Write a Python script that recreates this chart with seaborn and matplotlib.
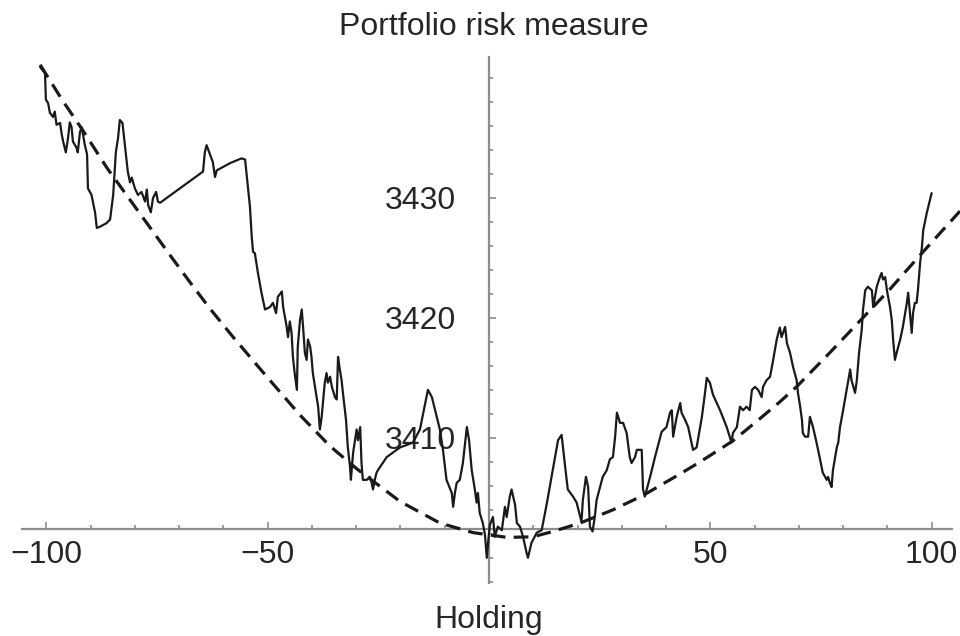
import matplotlib
matplotlib.use("Agg")
import matplotlib.pyplot as plt
import seaborn as sns
import pandas as pd
from matplotlib.ticker import FixedLocator, MultipleLocator, NullFormatter

# ---------------- data ----------------
holding_walk = [
    -101.4, -100.3, -100.1, -99.6, -99.2, -98.5, -98.1, -97.7, -96.9, -96.5,
    -96.2, -95.6, -95.1, -94.7, -94.3, -94.0, -93.2, -92.9, -92.4, -92.0,
    -91.7, -91.3, -90.9, -90.8, -90.6, -89.8, -89.0, -88.6, -87.9, -86.4,
    -85.6, -84.9, -84.3, -83.8, -83.4, -82.8, -82.2, -81.6, -81.1, -80.7,
    -80.0, -79.3, -78.5, -77.7, -77.3, -77.0, -76.4, -75.9, -75.2, -74.8,
    -74.3, -64.6, -64.2, -63.8, -63.0, -62.4, -61.9, -61.5, -58.5, -55.9,
    -55.1, -54.7, -54.0, -53.6, -53.3, -52.9, -52.2, -51.4, -50.6, -49.5,
    -48.8, -48.1, -47.7, -46.8, -46.5, -45.7, -45.4, -45.0, -44.6, -44.3,
    -43.9, -43.4, -43.2, -42.7, -42.3, -42.0, -41.6, -41.2, -40.9, -40.4,
    -40.1, -39.8, -39.3, -38.6, -38.2, -37.8, -37.1, -36.7, -36.4, -35.9,
    -35.5, -34.8, -34.4, -34.1, -33.7, -33.3, -33.0, -32.3, -31.9, -31.4,
    -31.2, -30.7, -29.9, -29.6, -29.1, -28.8, -28.5, -27.6, -26.9, -26.5,
    -26.2, -25.8, -25.4, -25.1, -23.1, -20.1, -17.2, -15.6, -13.8, -12.9,
    -11.8, -11.1, -10.4, -9.6, -8.4, -8.1, -7.7, -7.3, -6.6, -5.9,
    -5.0, -4.5, -3.9, -3.2, -2.8, -2.5, -2.1, -1.4, -0.9, -0.5,
    -0.2, 0.2, 0.9, 1.3, 2.0, 2.9, 3.6, 4.0, 4.7, 5.1,
    5.9, 6.3, 7.0, 7.7, 8.5, 8.8, 9.6, 10.8, 11.9, 13.0,
    14.5, 15.6, 16.4, 17.2, 17.8, 19.0, 19.8, 20.9, 21.2, 21.9,
    22.4, 22.8, 23.4, 23.9, 24.3, 25.1, 25.7, 26.6, 27.3, 28.0,
    28.5, 28.9, 29.6, 30.3, 31.1, 31.8, 32.2, 33.0, 33.4, 34.5,
    34.8, 35.2, 36.4, 37.5, 39.0, 40.1, 40.9, 41.3, 41.6, 42.4,
    43.2, 43.5, 44.3, 45.0, 46.1, 46.9, 48.1, 48.8, 49.2, 49.9,
    50.6, 52.2, 53.7, 54.8, 55.1, 56.0, 56.7, 57.4, 58.2, 58.9,
    59.4, 60.1, 60.8, 61.6, 61.9, 62.7, 63.5, 64.2, 65.0, 65.7,
    66.1, 66.9, 67.3, 68.0, 68.7, 69.5, 69.8, 70.3, 70.7, 70.9,
    71.4, 72.1, 72.5, 73.2, 74.0, 74.8, 75.4, 76.3, 76.6, 77.0,
    77.4, 77.7, 78.6, 78.9, 79.3, 80.0, 80.8, 81.6, 81.9, 82.7,
    83.1, 83.6, 84.2, 84.5, 85.0, 85.6, 86.5, 86.8, 87.2, 87.6,
    88.3, 88.7, 89.0, 89.5, 89.9, 90.6, 91.0, 91.3, 91.7, 92.1,
    92.9, 93.5, 94.4, 94.7, 95.1, 95.5, 95.8, 96.2, 96.6, 96.9,
    97.4, 97.8, 98.1, 98.9, 99.6, 100.0,
]

risk_walk = [
    3440.9, 3440.4, 3438.2, 3437.9, 3437.1, 3436.75, 3437.2, 3436.1, 3436.25, 3435.25,
    3434.7, 3433.8, 3435.0, 3436.3, 3435.9, 3434.7, 3434.2, 3433.8, 3435.5, 3435.9,
    3435.25, 3434.4, 3433.8, 3433.6, 3430.8, 3430.25, 3428.8, 3427.5, 3427.6, 3427.9,
    3428.2, 3430.25, 3433.8, 3435.0, 3436.5, 3436.25, 3434.2, 3432.2, 3431.3, 3431.7,
    3430.8, 3430.25, 3430.5, 3429.7, 3430.7, 3429.4, 3428.8, 3430.0, 3430.5, 3429.7,
    3429.6, 3432.2, 3433.8, 3434.4, 3433.6, 3433.0, 3431.75, 3432.3, 3432.9, 3433.3,
    3433.2, 3431.75, 3429.25, 3426.75, 3425.5, 3425.4, 3423.75, 3422.1, 3420.7, 3420.9,
    3421.25, 3420.4, 3421.75, 3422.2, 3420.9, 3419.25, 3418.4, 3419.7, 3418.75, 3416.75,
    3415.4, 3414.0, 3417.6, 3419.8, 3420.7, 3419.25, 3417.1, 3416.5, 3418.2, 3417.6,
    3416.75, 3415.4, 3414.25, 3412.6, 3410.7, 3411.75, 3414.6, 3415.4, 3414.6, 3415.1,
    3414.25, 3413.4, 3413.2, 3416.75, 3415.7, 3414.8, 3413.75, 3411.5, 3409.25, 3407.6,
    3406.5, 3408.75, 3410.7, 3409.8, 3410.9, 3407.9, 3406.5, 3406.5, 3406.75, 3406.25,
    3405.7, 3406.5, 3407.1, 3407.3, 3408.4, 3409.2, 3409.6, 3410.7, 3414.0, 3413.4,
    3411.75, 3410.7, 3409.0, 3406.5, 3405.4, 3404.25, 3405.4, 3406.25, 3406.5, 3407.9,
    3410.9, 3409.8, 3407.3, 3405.7, 3404.6, 3405.4, 3403.75, 3402.9, 3401.9, 3400.0,
    3401.25, 3402.75, 3403.4, 3401.75, 3402.6, 3402.3, 3404.25, 3403.4, 3405.1, 3405.7,
    3404.4, 3402.9, 3402.6, 3401.75, 3400.4, 3400.0, 3401.25, 3402.1, 3402.3, 3404.4,
    3407.5, 3409.8, 3410.25, 3407.6, 3405.7, 3405.1, 3404.6, 3403.0, 3404.8, 3406.75,
    3405.9, 3402.6, 3402.2, 3403.4, 3404.8, 3405.9, 3406.75, 3407.3, 3408.2, 3408.4,
    3410.1, 3412.1, 3411.25, 3411.25, 3410.4, 3408.4, 3407.9, 3408.4, 3409.0, 3409.0,
    3405.7, 3405.1, 3406.75, 3408.4, 3410.5, 3410.9, 3412.1, 3412.3, 3410.1, 3411.75,
    3412.9, 3412.1, 3411.5, 3410.9, 3409.0, 3409.2, 3411.75, 3413.75, 3415.0, 3414.6,
    3413.6, 3412.3, 3410.9, 3409.6, 3410.4, 3410.9, 3412.6, 3412.3, 3412.6, 3412.3,
    3414.0, 3414.25, 3414.0, 3413.4, 3414.25, 3414.8, 3415.1, 3416.5, 3418.2, 3419.2,
    3418.4, 3419.25, 3417.9, 3417.1, 3415.9, 3414.8, 3413.75, 3412.6, 3411.5, 3410.4,
    3410.1, 3410.1, 3411.75, 3410.9, 3409.6, 3408.2, 3407.1, 3406.5, 3406.75, 3406.25,
    3405.9, 3407.3, 3409.25, 3409.6, 3410.9, 3412.3, 3414.0, 3415.7, 3414.8, 3413.75,
    3414.8, 3417.1, 3419.0, 3420.7, 3422.3, 3422.6, 3422.3, 3420.9, 3421.75, 3422.6,
    3423.4, 3423.75, 3423.2, 3423.4, 3422.3, 3420.9, 3419.8, 3418.2, 3416.5, 3417.1,
    3418.2, 3419.25, 3421.25, 3422.1, 3420.4, 3418.75, 3420.4, 3421.25, 3421.25, 3422.3,
    3424.6, 3425.9, 3427.3, 3428.75, 3429.8, 3430.4,
]

holding_curve = [
    -101.4, -96.3, -91.7, -86.3, -81.8, -77.0, -72.1, -67.6, -63.1, -57.8,
    -50.2, -42.7, -35.9, -29.8, -20.1, -11.1, -3.6, 4.1, 9.9, 14.5,
    20.6, 28.0, 34.8, 43.2, 47.7, 55.1, 61.2, 65.7, 69.6, 77.0,
    83.8, 90.6, 97.8, 106.4,
]
risk_curve = [
    3441.1, 3438.1, 3435.6, 3432.5, 3430.2, 3427.75, 3425.25, 3423.0, 3420.8, 3418.4,
    3415.1, 3411.9, 3409.3, 3407.4, 3404.7, 3402.9, 3402.1, 3401.7, 3401.75, 3402.2,
    3402.9, 3404.0, 3405.2, 3407.0, 3408.0, 3409.75, 3411.6, 3413.0, 3414.3, 3417.1,
    3419.75, 3422.4, 3425.4, 3428.9,
]

x_major_ticks = [-100, -50, 50, 100]
x_major_labels = ["\u2212100", "\u221250", "50", "100"]
y_major_ticks = [3410, 3420, 3430]
y_major_labels = ["3410", "3420", "3430"]
title_text = "Portfolio risk measure"
xlabel_text = "Holding"

# ---------------- style ----------------
sns.set_theme(style="white")
plt.rcParams["font.family"] = ["Liberation Sans", "DejaVu Sans"]
TXT = "#262626"
AXC = "#8c8c8c"

W, H = 960, 636
fig = plt.figure(figsize=(W / 100, H / 100), dpi=100)
ax = fig.add_axes([22 / W, (H - 583) / H, (952 - 22) / W, (583 - 57) / H])
ax.set_facecolor("white")

walk = pd.DataFrame({"Holding": holding_walk, "Risk": risk_walk})
curve = pd.DataFrame({"Holding": holding_curve, "Risk": risk_curve})

sns.lineplot(data=curve, x="Holding", y="Risk", estimator=None, sort=False,
             color="#1a1a1a", linewidth=2.3, ax=ax, zorder=3)
dash_line = ax.lines[-1]
dash_line.set_dashes([4.6, 2.6])
dash_line.set_clip_on(False)

sns.lineplot(data=walk, x="Holding", y="Risk", estimator=None, sort=False,
             color="#1a1a1a", linewidth=1.6, ax=ax, zorder=4)

ax.set_xlim(-105.5, 104.6)
ax.set_ylim(3397.9, 3441.75)

for s in ["top", "right"]:
    ax.spines[s].set_visible(False)
ax.spines["left"].set_position(("data", 0))
ax.spines["bottom"].set_position(("data", 3402.4))
for s in ["left", "bottom"]:
    ax.spines[s].set_color(AXC)
    ax.spines[s].set_linewidth(1.6)
    ax.spines[s].set_zorder(1)

ax.xaxis.set_major_locator(FixedLocator(x_major_ticks))
ax.set_xticklabels(x_major_labels)
ax.xaxis.set_minor_locator(MultipleLocator(10))
ax.yaxis.set_major_locator(FixedLocator(y_major_ticks))
ax.set_yticklabels(y_major_labels)
ax.yaxis.set_minor_locator(MultipleLocator(2))
ax.xaxis.set_minor_formatter(NullFormatter())
ax.yaxis.set_minor_formatter(NullFormatter())

ax.tick_params(axis="x", which="major", direction="in", length=5, width=1.2,
               color=AXC, labelsize=23, labelcolor=TXT, pad=8, bottom=True)
ax.tick_params(axis="x", which="minor", direction="in", length=3, width=1.2,
               color=AXC, bottom=True)
ax.tick_params(axis="y", which="major", direction="in", length=5, width=1.2,
               color=AXC, labelsize=23, labelcolor=TXT, pad=24, left=True)
ax.tick_params(axis="y", which="minor", direction="in", length=3, width=1.2,
               color=AXC, left=True)

ax.set_xlabel("")
ax.set_ylabel("")

fig.text(494 / W, 1 - 35 / H, title_text, ha="center", va="baseline",
         fontsize=23, color=TXT)
fig.text(489 / W, 1 - 628 / H, xlabel_text, ha="center", va="baseline",
         fontsize=23, color=TXT)

fig.savefig("out.png", dpi=100, facecolor="white")
